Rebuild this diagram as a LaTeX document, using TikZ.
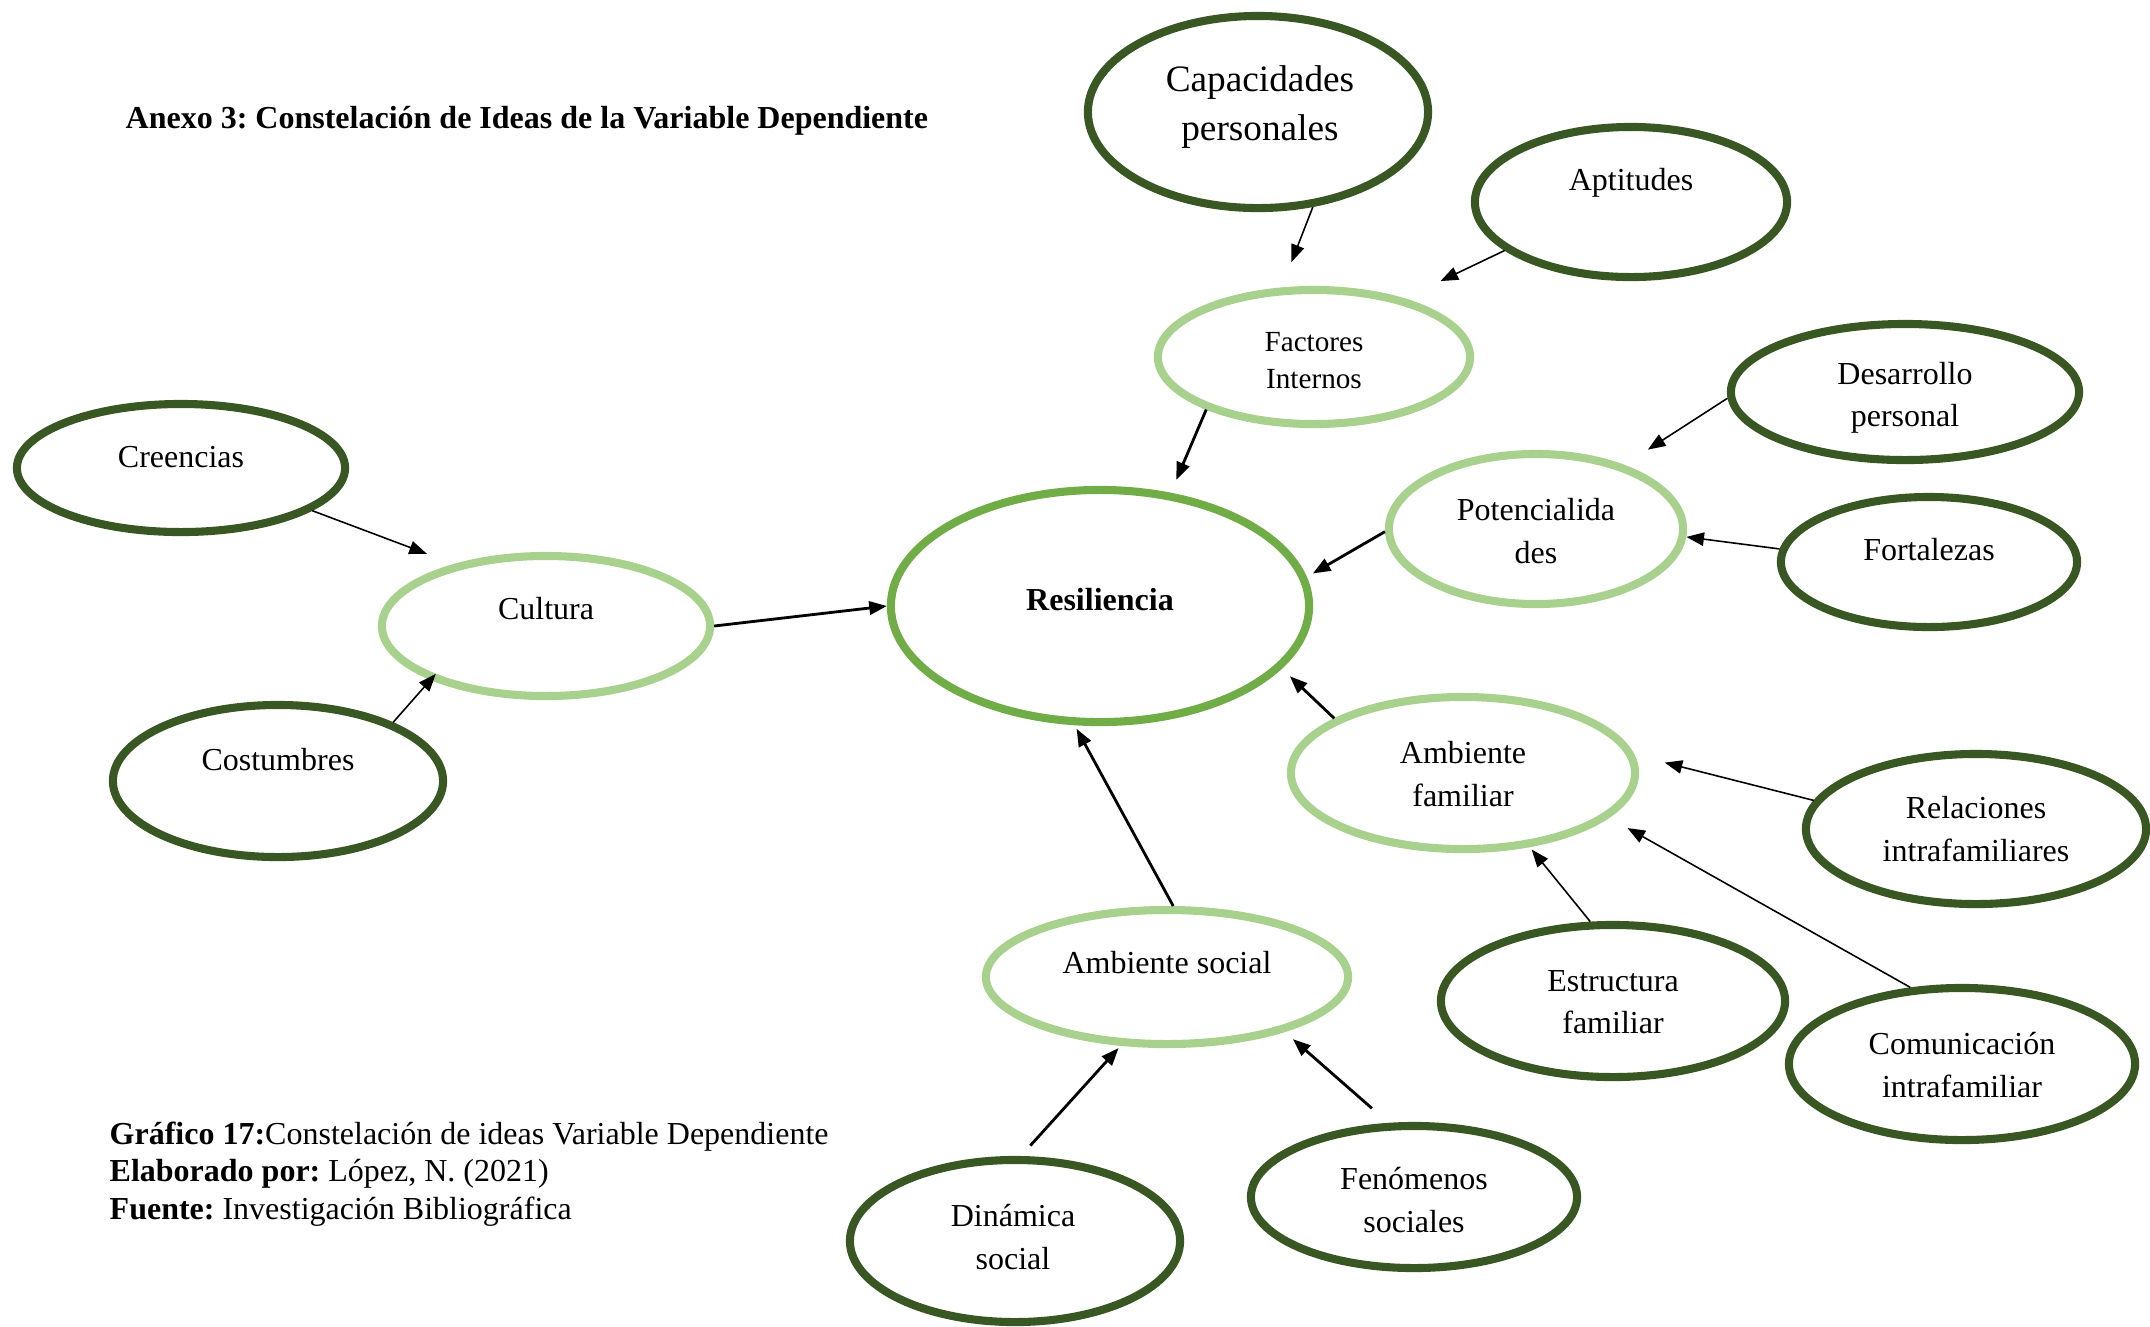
\documentclass[tikz,border=0pt]{standalone}
\usepackage{fontspec}
\setmainfont{Liberation Serif}
\usetikzlibrary{shapes.geometric,arrows.meta}
\definecolor{darkgreen}{HTML}{385723}
\definecolor{lightgreen}{HTML}{A9D18E}
\definecolor{midgreen}{HTML}{70AD47}
\frenchspacing

\begin{document}
\begin{tikzpicture}[x = 0.01cm, y = -0.01cm,
  ideabox/.style={ellipse, draw=darkgreen, line width=\ringw, inner sep=0pt},
  groupbox/.style={ellipse, draw=lightgreen, line width=\ringw, inner sep=0pt},
  mainbox/.style={ellipse, draw=midgreen, line width=\ringw, inner sep=0pt},
  boxsize/.style 2 args={minimum width=#1cm, minimum height=#2cm},
  word/.style={inner sep=0pt, align=center, font=\fontsize{9.1}{12}\selectfont},
  thinarrow/.style={->, line width=0.45pt},
  thickarrow/.style={->, line width=0.8pt},
  >={Triangle[length=5pt,width=3.8pt]}]

  % ring width
  \def\ringw{2.3pt}

  \useasboundingbox (0,0) rectangle (2150,1326);

  % heading and caption
  \node[anchor=west, inner sep=0pt, font=\bfseries\fontsize{9.1}{11}\selectfont] (title)
    at (125,121) {Anexo 3: Constelación de Ideas de la Variable Dependiente};
  \node[anchor=west, inner sep=0pt, align=left, font=\fontsize{9.1}{10.6}\selectfont] (caption)
    at (109,1174) {\textbf{Gráfico 17:}Constelación de ideas Variable Dependiente\\
    \textbf{Elaborado por:} López, N. (2021)\\
    \textbf{Fuente:} Investigación Bibliográfica};

  % centre
  \node[mainbox, boxsize={4.18}{2.32}] (res) at (1100,606) {};

  % groups
  \node[groupbox, boxsize={3.12}{1.34}] (fac) at (1314,357) {};
  \node[groupbox, boxsize={2.94}{1.50}] (pot) at (1536,529) {};
  \node[groupbox, boxsize={3.28}{1.40}] (cul) at (546,626) {};
  \node[groupbox, boxsize={3.44}{1.52}] (amf) at (1463,773) {};
  \node[groupbox, boxsize={3.62}{1.34}] (ams) at (1167,977) {};

  % ideas
  \node[ideabox, boxsize={3.40}{1.92}] (cap) at (1258,112) {};
  \node[ideabox, boxsize={3.12}{1.50}] (apt) at (1631,202) {};
  \node[ideabox, boxsize={3.48}{1.36}] (des) at (1905,392) {};
  \node[ideabox, boxsize={2.96}{1.30}] (fort) at (1929,562) {};
  \node[ideabox, boxsize={3.28}{1.28}] (cre) at (181,468) {};
  \node[ideabox, boxsize={3.30}{1.52}] (cos) at (278,781) {};
  \node[ideabox, boxsize={3.40}{1.50}] (rel) at (1976,829) {};
  \node[ideabox, boxsize={3.44}{1.52}] (est) at (1613,1001) {};
  \node[ideabox, boxsize={3.46}{1.52}] (com) at (1962,1064) {};
  \node[ideabox, boxsize={3.30}{1.62}] (din) at (1015,1241) {};
  \node[ideabox, boxsize={3.26}{1.42}] (fen) at (1414,1197) {};

  % arrows into the groups
  \draw[thinarrow, shorten >=0.27cm] (cap.-60) -- (fac.115);
  \draw[thinarrow, shorten >=0.40cm] (apt.201) -- (fac.33);
  \draw[thinarrow, shorten >=0.28cm] (des.182) -- (pot.36);
  \draw[thinarrow] (fort.175) -- (pot.-3);
  \draw[thinarrow, shorten >=0.29cm] (cre.-18) -- (cul.146);
  \draw[thinarrow, shorten >=-0.08cm] (cos.27) -- (cul.205);
  \draw[thinarrow, shorten >=0.31cm] (rel.170) -- (amf.6);
  \draw[thinarrow, shorten >=0.03cm] (est.106) -- (amf.-48);
  \draw[thinarrow, shorten >=0.21cm] (com.124) -- (amf.-17);
  \draw[thickarrow, shorten <=0.14cm, shorten >=0.03cm] (din.86) -- (ams.236);
  \draw[thickarrow, shorten <=0.22cm, shorten >=0.11cm] (fen.109) -- (ams.-25);

  % arrows into the centre
  \draw[thickarrow] (cul.0) -- (res.180);
  \draw[thickarrow, shorten >=0.14cm] (fac.206) -- (res.58);
  \draw[thickarrow, shorten >=0.07cm] (pot.181) -- (res.8);
  \draw[thickarrow, shorten >=0.11cm] (amf.157) -- (res.-19);
  \draw[thickarrow, shorten >=0.04cm] (ams.85) -- (res.258);

  % texts
  \node[word, font=\bfseries\fontsize{9.1}{12}\selectfont] (resT) at (1100,600) {Resiliencia};
  \node[word, font=\fontsize{8.3}{10.5}\selectfont] (facT) at (1314,361) {Factores\\Internos};
  \node[word] (potT) at (1536,531) {Potencialida\\des};
  \node[word] (culT) at (546,609) {Cultura};
  \node[word] (amfT) at (1463,774) {Ambiente\\familiar};
  \node[word] (amsT) at (1167,963) {Ambiente social};
  \node[word, font=\fontsize{10.6}{14.2}\selectfont] (capT) at (1260,107) {Capacidades\\personales};
  \node[word] (aptT) at (1631,183) {Aptitudes};
  \node[word] (desT) at (1905,398) {Desarrollo\\personal};
  \node[word] (fortT) at (1929,550) {Fortalezas};
  \node[word] (creT) at (181,457) {Creencias};
  \node[word] (cosT) at (278,760) {Costumbres};
  \node[word] (relT) at (1976,829) {Relaciones\\intrafamiliares};
  \node[word] (estT) at (1613,1002) {Estructura\\familiar};
  \node[word] (comT) at (1962,1065) {Comunicación\\intrafamiliar};
  \node[word] (dinT) at (1013,1237) {Dinámica\\social};
  \node[word] (fenT) at (1414,1200) {Fenómenos\\sociales};

\end{tikzpicture}
\end{document}
